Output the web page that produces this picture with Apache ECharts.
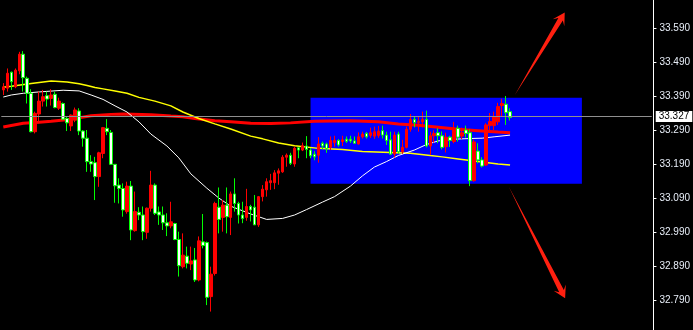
<!DOCTYPE html>
<html>
<head>
<meta charset="utf-8">
<script src="https://cdn.jsdelivr.net/npm/echarts@6/dist/echarts.min.js"></script>
<style>
  html, body { margin: 0; padding: 0; background: #000; }
  #chart { width: 693px; height: 330px; }
</style>
</head>
<body>
<div id="chart"></div>
<script>
// OHLC per bar (price, 3 decimals)
const opens = [
  33.408, 33.413, 33.460, 33.417, 33.464, 33.513, 33.442, 33.398, 33.285, 33.337,
  33.375, 33.391, 33.383, 33.395, 33.354, 33.368, 33.324, 33.302, 33.319, 33.346,
  33.287, 33.266, 33.197, 33.194, 33.153, 33.221, 33.295, 33.283, 33.189, 33.128,
  33.118, 33.050, 33.125, 32.994, 33.048, 33.040, 32.989, 33.060, 33.128, 33.049,
  33.040, 33.017, 33.008, 33.015, 32.968, 32.888, 32.919, 32.896, 32.908, 32.849,
  32.961, 32.959, 32.800, 32.868, 33.063, 33.033, 33.069, 33.033, 33.102, 33.074,
  33.040, 33.033, 33.065, 33.063, 33.011, 33.094, 33.114, 33.135, 33.135, 33.163,
  33.167, 33.210, 33.216, 33.190, 33.238, 33.231, 33.243, 33.231, 33.219, 33.216,
  33.251, 33.249, 33.239, 33.253, 33.259, 33.256, 33.263, 33.263, 33.258, 33.249,
  33.270, 33.280, 33.274, 33.272, 33.274, 33.288, 33.275, 33.261, 33.219, 33.278,
  33.226, 33.239, 33.292, 33.321, 33.312, 33.314, 33.321, 33.243, 33.273, 33.282,
  33.273, 33.241, 33.269, 33.256, 33.295, 33.272, 33.290, 33.282, 33.141, 33.228,
  33.202, 33.187, 33.303, 33.303, 33.314, 33.362, 33.366, 33.344
];
const closes = [
  33.417, 33.457, 33.432, 33.466, 33.513, 33.444, 33.398, 33.285, 33.339, 33.375,
  33.388, 33.381, 33.393, 33.356, 33.375, 33.322, 33.311, 33.334, 33.349, 33.287,
  33.266, 33.197, 33.190, 33.153, 33.223, 33.297, 33.285, 33.189, 33.126, 33.118,
  33.055, 33.125, 32.996, 33.050, 33.040, 32.991, 33.060, 33.128, 33.045, 33.040,
  33.017, 33.008, 33.020, 32.968, 32.891, 32.922, 32.898, 32.905, 32.849, 32.964,
  32.950, 32.798, 32.866, 33.074, 33.027, 33.069, 33.035, 33.102, 33.074, 33.040,
  33.030, 33.065, 33.055, 33.011, 33.094, 33.116, 33.138, 33.141, 33.164, 33.170,
  33.210, 33.216, 33.192, 33.236, 33.231, 33.244, 33.233, 33.214, 33.211, 33.249,
  33.243, 33.236, 33.259, 33.259, 33.246, 33.261, 33.257, 33.258, 33.251, 33.270,
  33.278, 33.270, 33.282, 33.285, 33.287, 33.275, 33.259, 33.219, 33.275, 33.226,
  33.239, 33.292, 33.321, 33.312, 33.316, 33.321, 33.243, 33.273, 33.280, 33.273,
  33.239, 33.269, 33.259, 33.295, 33.269, 33.282, 33.280, 33.141, 33.255, 33.202,
  33.184, 33.305, 33.315, 33.329, 33.359, 33.368, 33.341, 33.327
];
const lows = [
  33.393, 33.403, 33.408, 33.413, 33.454, 33.403, 33.368, 33.283, 33.280, 33.310,
  33.359, 33.359, 33.362, 33.354, 33.349, 33.319, 33.287, 33.287, 33.313, 33.275,
  33.241, 33.167, 33.167, 33.084, 33.123, 33.207, 33.275, 33.187, 33.076, 33.074,
  33.035, 33.044, 32.966, 32.991, 33.025, 32.966, 32.970, 33.050, 33.040, 33.011,
  32.996, 32.978, 33.001, 32.966, 32.859, 32.883, 32.883, 32.878, 32.843, 32.845,
  32.942, 32.775, 32.756, 32.862, 32.986, 32.991, 32.986, 32.981, 33.050, 33.015,
  33.016, 33.023, 33.021, 33.011, 33.005, 33.080, 33.094, 33.114, 33.116, 33.129,
  33.164, 33.182, 33.187, 33.182, 33.207, 33.228, 33.207, 33.207, 33.201, 33.194,
  33.233, 33.223, 33.231, 33.241, 33.241, 33.243, 33.252, 33.252, 33.251, 33.247,
  33.265, 33.265, 33.267, 33.264, 33.267, 33.265, 33.246, 33.216, 33.209, 33.220,
  33.220, 33.236, 33.285, 33.298, 33.285, 33.298, 33.239, 33.217, 33.253, 33.251,
  33.233, 33.224, 33.240, 33.251, 33.256, 33.263, 33.268, 33.125, 33.138, 33.192,
  33.180, 33.184, 33.290, 33.290, 33.305, 33.330, 33.305, 33.318
];
const highs = [
  33.428, 33.471, 33.462, 33.471, 33.520, 33.522, 33.447, 33.410, 33.344, 33.403,
  33.408, 33.403, 33.410, 33.403, 33.385, 33.371, 33.329, 33.336, 33.356, 33.354,
  33.290, 33.290, 33.216, 33.211, 33.226, 33.299, 33.322, 33.290, 33.190, 33.148,
  33.133, 33.138, 33.140, 33.109, 33.063, 33.065, 33.062, 33.170, 33.133, 33.065,
  33.065, 33.045, 33.079, 33.017, 32.991, 32.986, 32.947, 32.947, 32.943, 32.977,
  33.043, 32.962, 32.888, 33.079, 33.121, 33.084, 33.121, 33.109, 33.148, 33.079,
  33.079, 33.117, 33.070, 33.099, 33.096, 33.128, 33.148, 33.161, 33.172, 33.177,
  33.216, 33.221, 33.223, 33.241, 33.238, 33.253, 33.272, 33.237, 33.228, 33.269,
  33.256, 33.253, 33.271, 33.273, 33.263, 33.273, 33.271, 33.273, 33.271, 33.283,
  33.285, 33.284, 33.297, 33.300, 33.302, 33.303, 33.285, 33.285, 33.285, 33.285,
  33.261, 33.300, 33.337, 33.331, 33.331, 33.344, 33.347, 33.285, 33.289, 33.295,
  33.286, 33.282, 33.273, 33.314, 33.303, 33.297, 33.303, 33.292, 33.262, 33.251,
  33.210, 33.310, 33.340, 33.344, 33.370, 33.382, 33.390, 33.354
];

// Moving averages as [bar index, price]
const maRed = [
  [0, 33.299], [5, 33.310], [9, 33.313], [12, 33.316], [17, 33.322], [22, 33.332],
  [27, 33.336], [30, 33.337], [37, 33.335], [42, 33.331], [45, 33.329], [48, 33.324],
  [53, 33.317], [57, 33.314], [62, 33.310], [67, 33.309], [72, 33.311], [78, 33.316],
  [87, 33.317], [94, 33.314], [99, 33.308], [104, 33.304], [109, 33.298], [114, 33.292],
  [119, 33.288], [124, 33.284], [127, 33.282]
];
const maYellow = [
  [0, 33.416], [2, 33.419], [7, 33.427], [12, 33.434], [16, 33.431], [19, 33.426],
  [21, 33.421], [23, 33.415], [25, 33.411], [28, 33.405], [31, 33.398], [34, 33.386],
  [38, 33.375], [42, 33.361], [45, 33.343], [49, 33.324], [53, 33.308], [57, 33.293],
  [62, 33.272], [65, 33.264], [69, 33.252], [73, 33.244], [79, 33.236], [85, 33.233],
  [90, 33.227], [97, 33.224], [102, 33.222], [107, 33.215], [110, 33.211], [114, 33.205],
  [117, 33.200], [120, 33.196], [124, 33.190], [127, 33.187]
];
const maWhite = [
  [0, 33.387], [2, 33.393], [5, 33.398], [9, 33.402], [15, 33.407], [19, 33.405],
  [22, 33.393], [25, 33.380], [28, 33.361], [31, 33.343], [34, 33.314], [37, 33.278],
  [41, 33.243], [44, 33.208], [47, 33.161], [51, 33.119], [54, 33.090], [57, 33.066],
  [62, 33.043], [66, 33.027], [70, 33.030], [73, 33.040], [76, 33.056], [80, 33.078],
  [83, 33.094], [87, 33.125], [90, 33.155], [93, 33.181], [96, 33.197], [99, 33.215],
  [103, 33.231], [106, 33.247], [109, 33.258], [113, 33.263], [117, 33.265], [120, 33.266],
  [123, 33.270], [127, 33.275]
];

const priceTicks = [32.79, 32.89, 32.99, 33.09, 33.19, 33.29, 33.39, 33.49, 33.59];
const lastPrice = 33.327;

// Highlighted consolidation zone (bar index range, price range)
const zoneBars = ['77', '145'];
const zonePrices = [33.385, 33.132];

// Arrow annotations: [bar index, price] for tail and tip
const arrowUp = { tail: [128.2, 33.393], tip: [140.7, 33.636] };
const arrowDown = { tail: [126.7, 33.123], tip: [140.8, 32.795] };

const slotCount = 163;
const slots = Array.from({ length: slotCount }, (_, i) => String(i));

const candles = opens.map((o, i) => [o, closes[i], lows[i], highs[i]]);

const chart = echarts.init(document.getElementById('chart'), null, { renderer: 'canvas' });

const option = {
  backgroundColor: '#000000',
  animation: false,
  grid: { left: 1.3, right: 39.7, top: 0, bottom: 0 },
  xAxis: {
    type: 'category',
    data: slots,
    boundaryGap: true,
    axisLine: { show: false },
    axisTick: { show: false },
    axisLabel: { show: false },
    splitLine: { show: false }
  },
  yAxis: {
    type: 'value',
    position: 'right',
    offset: 1.7,
    min: 32.7018,
    max: 33.6724,
    splitLine: { show: false },
    axisLine: { show: true, lineStyle: { color: '#ffffff', width: 1 } },
    axisTick: { show: true, length: 3, customValues: priceTicks, lineStyle: { color: '#ffffff' } },
    axisLabel: {
      customValues: priceTicks,
      formatter: v => v.toFixed(3),
      color: '#e8eef8',
      fontSize: 10,
      fontFamily: 'Liberation Sans, Arial, sans-serif',
      margin: 6
    }
  },
  series: [
    {
      type: 'line',
      data: [],
      z: 1,
      silent: true,
      markArea: {
        silent: true,
        itemStyle: { color: '#0000ff', opacity: 1 },
        data: [[
          { xAxis: zoneBars[0], yAxis: zonePrices[0] },
          { xAxis: zoneBars[1], yAxis: zonePrices[1] }
        ]]
      }
    },
    {
      name: 'MA slow',
      type: 'line',
      data: maRed,
      z: 3,
      symbol: 'none',
      lineStyle: { color: '#ff0000', width: 3 }
    },
    {
      name: 'MA mid',
      type: 'line',
      data: maYellow,
      z: 3,
      symbol: 'none',
      lineStyle: { color: '#ffff00', width: 1.5 }
    },
    {
      name: 'MA fast',
      type: 'line',
      data: maWhite,
      z: 3,
      symbol: 'none',
      lineStyle: { color: '#ffffff', width: 1 }
    },
    {
      type: 'candlestick',
      data: candles,
      z: 4,
      barWidth: 3,
      itemStyle: {
        color: '#ff0000',
        borderColor: '#ff0000',
        color0: '#ffffff',
        borderColor0: '#00ff00',
        borderWidth: 1
      },
      markLine: {
        silent: true,
        symbol: ['none', 'none'],
        lineStyle: { color: '#8f8f8f', width: 1, type: 'solid' },
        label: {
          show: true,
          position: 'end',
          formatter: lastPrice.toFixed(3),
          backgroundColor: '#ffffff',
          color: '#000000',
          fontSize: 10,
          fontFamily: 'Liberation Sans, Arial, sans-serif',
          padding: [1, 3, 0, 3],
          distance: 4
        },
        data: [{ yAxis: lastPrice }]
      }
    }
  ]
};

chart.setOption(option);

// Map a fractional bar index / price to pixels
function toPixel(pt) {
  const a = chart.convertToPixel({ gridIndex: 0 }, [0, pt[1]]);
  const b = chart.convertToPixel({ gridIndex: 0 }, [1, pt[1]]);
  return [a[0] + (b[0] - a[0]) * pt[0], a[1]];
}

// Tapered arrow: zero-width tail widening to a notched head
function arrowShape(spec) {
  const T = toPixel(spec.tail);
  const P = toPixel(spec.tip);
  const dx = P[0] - T[0], dy = P[1] - T[1];
  const len = Math.hypot(dx, dy);
  const d = [dx / len, dy / len];
  const n = [-d[1], d[0]];
  const at = (dist, off) => [P[0] - d[0] * dist + n[0] * off, P[1] - d[1] * dist + n[1] * off];
  return {
    type: 'polygon',
    z: 100,
    shape: { points: [T, at(8, 2.6), at(12, 6.8), P, at(12, -6.8), at(8, -2.6)] },
    style: { fill: '#ff2010' }
  };
}

chart.setOption({ graphic: [arrowShape(arrowUp), arrowShape(arrowDown)] });
</script>
</body>
</html>
